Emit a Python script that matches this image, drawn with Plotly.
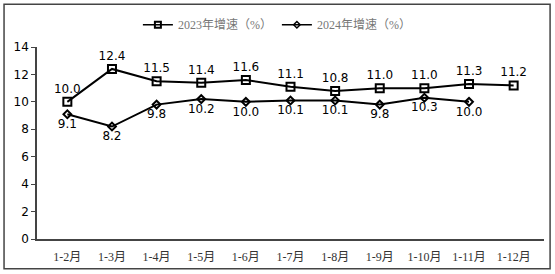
import plotly.graph_objects as go

categories = ["1-2月", "1-3月", "1-4月", "1-5月", "1-6月", "1-7月", "1-8月", "1-9月", "1-10月", "1-11月", "1-12月"]
growth_2023 = [10.0, 12.4, 11.5, 11.4, 11.6, 11.1, 10.8, 11.0, 11.0, 11.3, 11.2]
growth_2024 = [9.1, 8.2, 9.8, 10.2, 10.0, 10.1, 10.1, 9.8, 10.3, 10.0]
y_ticks = [0, 2, 4, 6, 8, 10, 12, 14]
name_2023 = "2023年增速（%）"
name_2024 = "2024年增速（%）"

fig = go.Figure()
fig.add_trace(go.Scatter(
    x=categories, y=growth_2023, name=name_2023, showlegend=False,
    mode="lines+markers+text",
    line=dict(color="black", width=2),
    marker=dict(symbol="square-open", size=8, color="black", line=dict(width=2, color="black")),
    text=[f"{v:.1f}" for v in growth_2023], textposition="top center",
    textfont=dict(family="DejaVu Sans", size=12, color="black"),
    cliponaxis=False,
))
fig.add_trace(go.Scatter(
    x=categories[:len(growth_2024)], y=growth_2024, name=name_2024, showlegend=False,
    mode="lines+markers+text",
    line=dict(color="black", width=2),
    marker=dict(symbol="diamond-open", size=6, color="black", line=dict(width=2, color="black")),
    text=[f"{v:.1f}" for v in growth_2024], textposition="bottom center",
    textfont=dict(family="DejaVu Sans", size=12, color="black"),
    cliponaxis=False,
))
# legend entries with smaller symbols
fig.add_trace(go.Scatter(
    x=[None], y=[None], name=name_2023, mode="lines+markers",
    line=dict(color="black", width=1.5),
    marker=dict(symbol="square-open", size=6, color="black", line=dict(width=2, color="black")),
))
fig.add_trace(go.Scatter(
    x=[None], y=[None], name=name_2024, mode="lines+markers",
    line=dict(color="black", width=1.5),
    marker=dict(symbol="diamond-open", size=5, color="black", line=dict(width=1.5, color="black")),
))

fig.update_layout(
    width=555, height=274,
    margin=dict(l=37, r=11, t=46, b=35),
    paper_bgcolor="white", plot_bgcolor="white",
    showlegend=True,
    legend=dict(orientation="h", x=0.199, xanchor="left", y=1.11, yanchor="middle",
                font=dict(family="Liberation Serif, Noto Sans CJK SC", size=12, color="#777777"),
                itemwidth=30, tracegroupgap=0),
    xaxis=dict(type="category", showline=True, linecolor="#444444", linewidth=1.5,
               ticks="", showgrid=False, zeroline=False, ticklabelstandoff=6,
               tickfont=dict(family="Liberation Serif, Noto Sans CJK SC", size=12, color="#333333")),
    yaxis=dict(range=[0, 14], tickvals=y_ticks, showline=True, linecolor="#444444", linewidth=1.5,
               ticks="outside", ticklen=4, tickcolor="#444444", showgrid=False, zeroline=False,
               tickfont=dict(family="DejaVu Sans", size=12, color="black")),
    shapes=[dict(type="rect", xref="paper", yref="paper", x0=-0.065, x1=1.012, y0=-0.155, y1=1.223,
                 line=dict(color="#444444", width=1.5), fillcolor="rgba(0,0,0,0)")],
)

fig.write_html("out.html")
